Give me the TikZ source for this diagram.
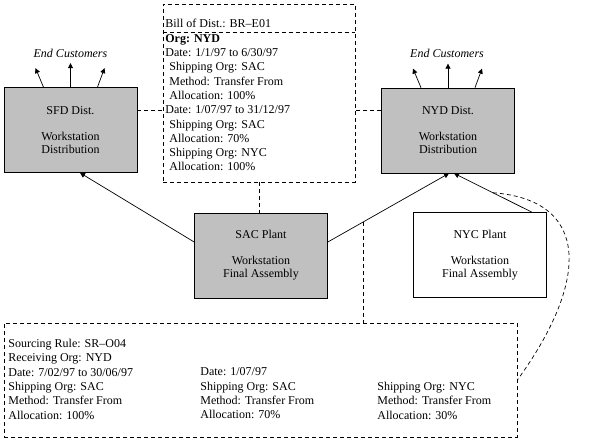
\documentclass[tikz,border=0pt]{standalone}
\usepackage{fontspec}
\setmainfont{Liberation Serif}
\usepackage{xcolor}
\usepackage{tikz}
\usetikzlibrary{arrows.meta, positioning}
\definecolor{boxgray}{HTML}{C0C0C0}
\newcommand{\ind}{\hspace*{4pt}}

\begin{document}
\begin{tikzpicture}[
    x=1pt, y=-1pt, line width=0.7pt,
    font=\fontsize{12}{14.3}\selectfont,
    block/.style={rectangle, draw, fill=boxgray, align=center, minimum width=133pt, minimum height=85pt, inner sep=0pt, font=\fontsize{12}{13}\selectfont},
    dashbox/.style={rectangle, draw, dash pattern=on 4pt off 3pt, inner sep=0pt},
    dashline/.style={dash pattern=on 4pt off 3pt},
    note/.style={align=left, inner sep=0pt, anchor=north west},
    cust/.style={font=\fontsize{12}{14}\selectfont\itshape, inner sep=0pt},
    arrow/.style={-{Triangle[length=5pt,width=5pt]}}
]
\useasboundingbox (0,0) rectangle (595,443);

% Row 1: Distribution centres
\node [block] (sfd) at (70.5,130) {SFD Dist.\\[13pt]Workstation\\Distribution};
\node [block] (nyd) at (448,130.5) {NYD Dist.\\[13pt]Workstation\\Distribution};
\node [cust] (sfdcust) at (70.5,53) {End Customers};
\node [cust] (nydcust) at (447,53) {End Customers};

% Bill of distribution
\node [dashbox, minimum width=192pt, minimum height=178pt] (bod) at (259,93) {};
\coordinate (bodsplit) at (0,32);
\draw [dashline] (bod.west |- bodsplit) -- (bod.east |- bodsplit);
\node [note] (bodhead) at (165,19) {Bill of Dist.: BR–E01};
\node [note] (bodbody) at (165,34) {\textbf{Org: NYD}\\
Date: 1/1/97 to 6/30/97\\
\ind Shipping Org: SAC\\
\ind Method: Transfer From\\
\ind Allocation: 100\%\\
Date: 1/07/97 to 31/12/97\\
\ind Shipping Org: SAC\\
\ind Allocation: 70\%\\
\ind Shipping Org: NYC\\
\ind Allocation: 100\%};

% Row 2: Plants
\node [block] (sac) at (261,255.5) {SAC Plant\\[13pt]Workstation\\Final Assembly};
\node [block, fill=white] (nyc) at (480,255) {NYC Plant\\[13pt]Workstation\\Final Assembly};

% Sourcing rule
\node [dashbox, minimum width=513pt, minimum height=114pt] (sr) at (260.5,380) {};
\node [note] (srmain) at (8,339) {Sourcing Rule: SR–O04\\
Receiving Org: NYD\\
Date: 7/02/97 to 30/06/97\\
Shipping Org: SAC\\
Method: Transfer From\\
Allocation: 100\%};
\node [note] (srsac) at (200,367.6) {Date: 1/07/97\\
Shipping Org: SAC\\
Method: Transfer From\\
Allocation: 70\%};
\node [note] (srnyc) at (377,381.9) {Shipping Org: NYC\\
Method: Transfer From\\
Allocation: 30\%};

% Shipments to end customers
\foreach \n in {sfd, nyd} {
  \foreach \sx/\ex/\ey in {-27/-35/19, 0/0/24, 27/34/19} {
    \draw [arrow] ([xshift=\sx pt]\n.north) -- ([xshift=\ex pt, yshift=\ey pt]\n.north);
  }
}

% Links to the bill of distribution
\draw [dashline] ([yshift=20pt]sfd.east) -- ([yshift=20pt]sfd.east -| bod.west);
\draw [dashline] ([yshift=20.5pt]nyd.west) -- ([yshift=20.5pt]nyd.west -| bod.east);
\draw [dashline] (bod.south) -- (bod.south |- sac.north);

% Transfers from plants
\draw [arrow] ([yshift=13.5pt]sac.west) -- ([xshift=9.5pt]sfd.south);
\draw [arrow] ([yshift=13.5pt]sac.east) -- ([xshift=1pt]nyd.south) coordinate [pos=0.29] (srlink);
\draw [arrow] ([xshift=-15pt]nyc.north east) -- ([xshift=6pt]nyd.south) coordinate [pos=0.5] (nyclink);

% Links to the sourcing rule
\draw [dashline] (srlink) -- (srlink |- sr.north);
\draw [dashline] (nyclink) .. controls (590,200) and (590,280) .. (sr.east);
\end{tikzpicture}
\end{document}
